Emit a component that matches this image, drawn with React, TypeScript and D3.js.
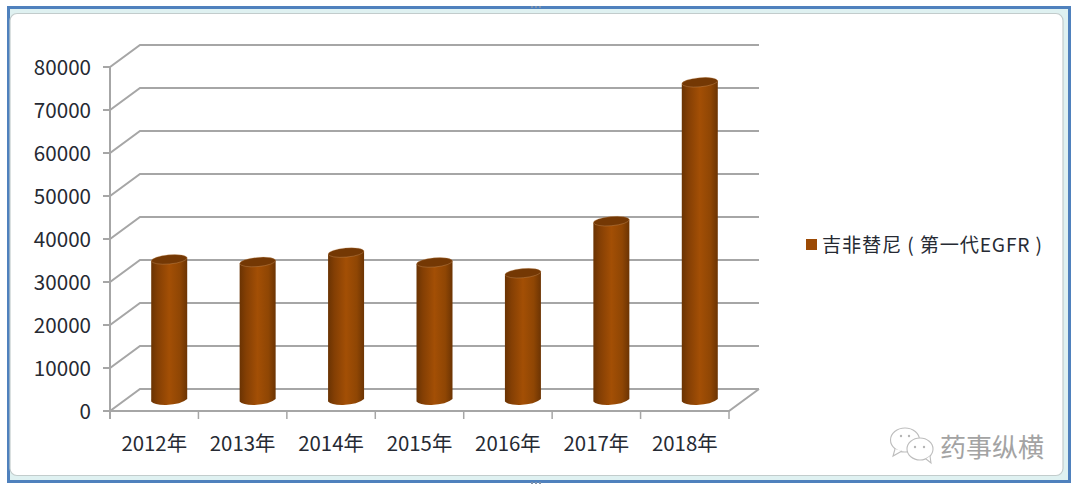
import React from "react";
import * as d3 from "d3";

const categories = ["2012年", "2013年", "2014年", "2015年", "2016年", "2017年", "2018年"];
const values = [32700, 32100, 34300, 32000, 29500, 41600, 73900];
const yTicks = [0, 10000, 20000, 30000, 40000, 50000, 60000, 70000, 80000];
const legendLabel = "吉非替尼 ( 第一代EGFR )";
const watermark = "药事纵横";

const W = 1080;
const H = 495;
const font = "'Noto Sans CJK SC', 'Noto Sans', sans-serif";
const ink = "#262a33";
const depthX = 30;
const depthY = -22;
const barW = 36;
const grid = "#a6a6a6";

const x = d3.scaleBand<string>().domain(categories).range([110, 729]);
const y = d3.scaleLinear().domain([0, 80000]).range([411, 67]);

const frontEdges = [110, ...categories.map((c) => (x(c) as number) + x.bandwidth())];

// tilted cylinder, bottom and top caps lean up to the right
const cylinder = (cx: number, top: number, bottom: number) => {
  const r = barW / 2;
  const tilt = 1.6;
  return (
    `M${cx - r},${top + tilt} ` +
    `L${cx - r},${bottom + tilt} ` +
    `Q${cx - r + 3},${bottom + 5.2} ${cx - 3},${bottom + 5} ` +
    `Q${cx + r - 6},${bottom + 4.4} ${cx + r},${bottom - tilt * 0.6} ` +
    `L${cx + r},${top - tilt} Z`
  );
};

export default function App() {
  const floorFrontY = y(0);
  return (
    <svg
      width={W}
      height={H}
      viewBox={`0 0 ${W} ${H}`}
      style={{ position: "absolute", left: 0, top: 0, background: "#fff" }}
    >
      <defs>
        <linearGradient id="barGrad" x1="0" x2="1" y1="0" y2="0">
          <stop offset="0" stopColor="#6a3303" />
          <stop offset="0.18" stopColor="#843f04" />
          <stop offset="0.5" stopColor="#a34f05" />
          <stop offset="0.8" stopColor="#8f4604" />
          <stop offset="1" stopColor="#6c3403" />
        </linearGradient>
      </defs>

      {/* chart frame */}
      <rect x={8.5} y={7.5} width={1061} height={474} fill="#dff1f1" stroke="#4f81bd" strokeWidth={3} />
      <rect x={10} y={13.5} width={1053} height={462} rx={7} fill="#fff" stroke="#c2cccc" strokeWidth={1.2} />
      {[532, 536, 540].map((d) => (
        <g key={d} fill="#7f93ad">
          <rect x={d - 1} y={6} width={2} height={2} />
          <rect x={d - 1} y={482} width={2} height={2} />
        </g>
      ))}

      {/* back wall gridlines and side wall */}
      {yTicks.map((t) => (
        <path
          key={t}
          d={`M103,${y(t)} L110,${y(t)} L${110 + depthX},${y(t) + depthY} L${729 + depthX},${y(t) + depthY}`}
          fill="none"
          stroke={grid}
          strokeWidth={2}
        />
      ))}
      <line x1={110} x2={110} y1={y(80000)} y2={floorFrontY + 8} stroke={grid} strokeWidth={2} />

      {/* floor */}
      <path
        d={`M110,${floorFrontY} L729,${floorFrontY} L${729 + depthX},${floorFrontY + depthY}`}
        fill="none"
        stroke={grid}
        strokeWidth={2}
      />
      {frontEdges.map((e) => (
        <line key={e} x1={e} x2={e} y1={floorFrontY} y2={floorFrontY + 8} stroke={grid} strokeWidth={1.5} />
      ))}

      {/* cylinders */}
      {categories.map((c, i) => {
        const cx = (x(c) as number) + x.bandwidth() / 2 + depthX / 2;
        const top = y(values[i]) + depthY / 2;
        const bottom = floorFrontY + depthY / 2;
        return (
          <g key={c}>
            <path d={cylinder(cx, top, bottom)} fill="url(#barGrad)" />
            <ellipse
              cx={cx}
              cy={top}
              rx={barW / 2}
              ry={4.6}
              transform={`rotate(-5 ${cx} ${top})`}
              fill="#743804"
              stroke="#d9a878"
              strokeOpacity={0.6}
              strokeWidth={0.5}
            />
          </g>
        );
      })}

      {/* y axis labels */}
      {yTicks.map((t) => (
        <text
          key={t}
          x={91}
          y={y(t) + 1}
          dy="0.35em"
          textAnchor="end"
          fontFamily={font}
          fontSize={20.6}
          fill={ink}
        >
          {t}
        </text>
      ))}

      {/* x axis labels */}
      {categories.map((c) => (
        <text
          key={c}
          x={(x(c) as number) + x.bandwidth() / 2}
          y={444}
          dy="0.35em"
          textAnchor="middle"
          fontFamily={font}
          fontSize={20.4}
          fill={ink}
        >
          {c}
        </text>
      ))}

      {/* legend */}
      <rect x={806} y={239} width={11} height={11} fill="#9c4a04" />
      <text
        x={822}
        y={245}
        dy="0.35em"
        fontFamily={font}
        fontSize={19.2}
        fill={ink}
        textLength={220}
        lengthAdjust="spacing"
        style={{ whiteSpace: "pre" }}
      >
        {legendLabel}
      </text>

      {/* watermark */}
      <g fill="#fff" stroke="#bdbdbd" strokeWidth={1.1}>
        <ellipse cx={905} cy={440} rx={14.5} ry={12} />
        <path d="M895,449 L893,456 L902,451" />
        <ellipse cx={920} cy={449} rx={13} ry={11} />
        <path d="M926,459 L931,463 L930,456" />
      </g>
      <g fill="#b5b5b5">
        <circle cx={901} cy={436} r={1.2} />
        <circle cx={909} cy={436} r={1.2} />
        <circle cx={915} cy={447} r={1.2} />
        <circle cx={924} cy={447} r={1.2} />
      </g>
      <text x={940} y={448} dy="0.35em" fontFamily={font} fontSize={26} fill="#a3a3a3">
        {watermark}
      </text>
    </svg>
  );
}
